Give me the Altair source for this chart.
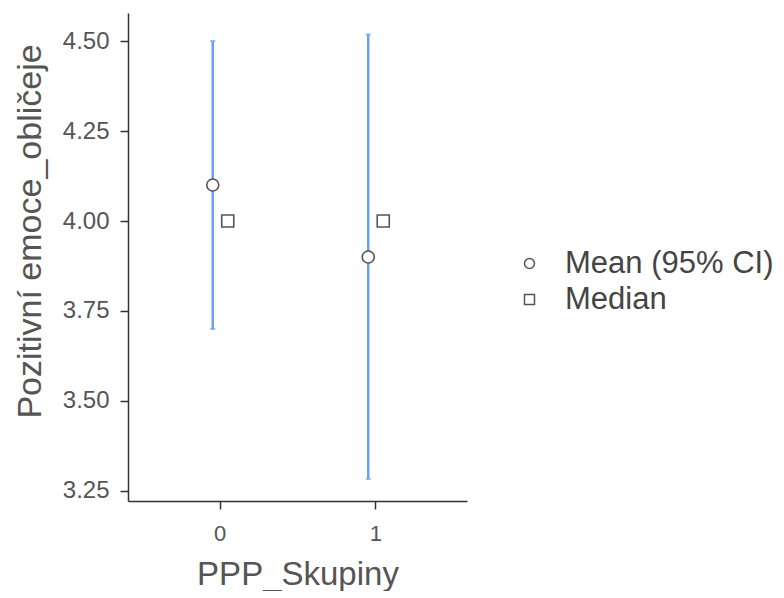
import altair as alt
import pandas as pd

groups = ["0", "1"]
means = [4.10, 3.90]
ci_low = [3.70, 3.283]
ci_high = [4.50, 4.518]
medians = [4.00, 4.00]
stat_labels = ["Mean (95% CI)", "Median"]
y_ticks = [3.25, 3.50, 3.75, 4.00, 4.25, 4.50]

mean_df = pd.DataFrame({"group": groups, "value": means, "lo": ci_low, "hi": ci_high,
                        "stat": [stat_labels[0]] * len(groups)})
med_df = pd.DataFrame({"group": groups, "value": medians,
                       "stat": [stat_labels[1]] * len(groups)})
pts_df = pd.concat([mean_df[["group", "value", "stat"]], med_df], ignore_index=True)

FONT = "Liberation Sans"
x_enc = alt.X("group:N", title="PPP_Skupiny",
              scale=alt.Scale(type="point", padding=0.59),
              axis=alt.Axis(labelAngle=0, labelFontSize=22, labelBaseline="alphabetic",
                            labelPadding=31, titleFontSize=33,
                            titleBaseline="alphabetic", titleY=83))
y_scale = alt.Scale(domain=[3.2222, 4.5778], nice=False, zero=False)
y_axis = alt.Axis(values=y_ticks, format=".2f", labelFontSize=24, titleFontSize=34,
                  labelPadding=11, titleY=218, titleX=-81, titleBaseline="bottom")

shape_scale = alt.Scale(domain=stat_labels, range=["circle", "square"])
legend = alt.Legend(title=None, orient="none", legendX=386, legendY=235,
                    labelFontSize=31, rowPadding=4, labelOffset=20,
                    labelColor="#444", labelLimit=400)

BLUE = "#6e9ff2"
rule = alt.Chart(mean_df).mark_rule(color=BLUE, strokeWidth=2.5, xOffset=-7).encode(
    x=x_enc, y=alt.Y("lo:Q", scale=y_scale, axis=y_axis, title="Pozitivní emoce_obličeje"),
    y2="hi:Q")
cap_lo = alt.Chart(mean_df).mark_tick(color=BLUE, orient="horizontal", size=5,
                                      thickness=2, xOffset=-7).encode(
    x=x_enc, y=alt.Y("lo:Q", scale=y_scale))
cap_hi = alt.Chart(mean_df).mark_tick(color=BLUE, orient="horizontal", size=5,
                                      thickness=2, xOffset=-7).encode(
    x=x_enc, y=alt.Y("hi:Q", scale=y_scale))
pts = alt.Chart(pts_df).mark_point(color="#555", fill="white", fillOpacity=1,
                                   strokeWidth=1.6, size=145, opacity=1).encode(
    x=x_enc, y=alt.Y("value:Q", scale=y_scale),
    xOffset=alt.XOffset("stat:N", scale=alt.Scale(domain=stat_labels, range=[-7, 8],
                                                  type="point", padding=0)),
    shape=alt.Shape("stat:N", scale=shape_scale, legend=legend))

chart = alt.layer(rule, cap_lo, cap_hi, pts).properties(
    width=339, height=488
).configure_axis(
    labelFont=FONT, titleFont=FONT, labelColor="#555", titleColor="#555",
    titleFontWeight="normal", domainColor="#333", domainWidth=1.5,
    tickColor="#333", tickWidth=1.5, tickSize=8, grid=False
).configure_legend(labelFont=FONT).configure_view(stroke=None).properties(
    autosize=alt.AutoSizeParams(type="none"),
    padding={"left": 120, "top": 5, "right": 309, "bottom": 90}
)

chart.save("out.html", embed_options={"renderer": "svg", "actions": False})
